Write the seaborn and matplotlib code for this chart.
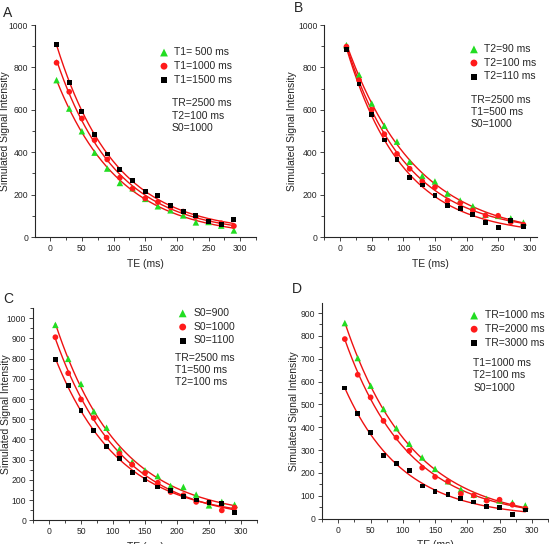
import numpy as np
import pandas as pd
import matplotlib
matplotlib.use('Agg')
import matplotlib.pyplot as plt
import seaborn as sns
from matplotlib.ticker import MultipleLocator

# echo times shared by all panels
te = [10, 30, 50, 70, 90, 110, 130, 150, 170, 190, 210, 230, 250, 270, 290]

# panel A: varying T1
a_labels = ['T1= 500 ms', 'T1=1000 ms', 'T1=1500 ms']
a_t1_500 = [740, 606, 499, 398, 323, 255, 230, 180, 145, 126, 102, 69, 71, 54, 31]
a_t1_1000 = [822, 685, 559, 457, 366, 280, 228, 182, 165, 140, 120, 95, 75, 65, 52]
a_t1_1500 = [910, 730, 592, 482, 392, 318, 268, 213, 195, 148, 122, 100, 73, 60, 82]
a_note = 'TR=2500 ms\nT2=100 ms\nS0=1000'

# panel B: varying T2
b_labels = ['T2=90 ms', 'T2=100 ms', 'T2=110 ms']
b_t2_90 = [905, 765, 630, 525, 450, 355, 288, 262, 205, 172, 145, 105, 100, 88, 68]
b_t2_100 = [898, 740, 600, 485, 392, 322, 262, 235, 172, 160, 125, 102, 100, 70, 58]
b_t2_110 = [885, 722, 578, 458, 365, 280, 245, 195, 150, 133, 105, 68, 45, 78, 48]
b_note = 'TR=2500 ms\nT1=500 ms\nS0=1000'

# panel C: varying S0
c_labels = ['S0=900', 'S0=1000', 'S0=1100']
c_s0_900 = [967, 799, 675, 539, 458, 351, 288, 247, 219, 170, 165, 127, 74, 91, 77]
c_s0_1000 = [906, 728, 598, 506, 409, 329, 275, 234, 186, 140, 124, 91, 88, 49, 63]
c_s0_1100 = [796, 666, 542, 443, 366, 305, 236, 203, 165, 148, 119, 100, 87, 82, 38]
c_note = 'TR=2500 ms\nT1=500 ms\nT2=100 ms'

# panel D: varying TR
d_labels = ['TR=1000 ms', 'TR=2000 ms', 'TR=3000 ms']
d_tr_1000 = [856, 703, 582, 480, 396, 328, 268, 218, 164, 128, 105, 87, 80, 70, 58]
d_tr_2000 = [786, 630, 531, 428, 355, 297, 223, 183, 163, 109, 102, 79, 83, 61, 44]
d_tr_3000 = [572, 461, 376, 275, 243, 210, 143, 119, 105, 89, 73, 52, 49, 17, 38]
d_note = 'T1=1000 ms\nT2=100 ms\nS0=1000'

marker_colors = ['#22dd22', '#ff1a1a', '#000000']
marker_shapes = ['^', 'o', 's']
marker_sizes = [22, 17, 12]

sns.set_style('ticks')
plt.rcParams['font.family'] = ['Liberation Sans', 'DejaVu Sans']


def fit_curve(t, y):
    # y = A*exp(-t/T) + c, grid search over T, linear least squares for A, c
    t = np.asarray(t, float)
    y = np.asarray(y, float)
    best = None
    for T in np.linspace(20, 400, 1500):
        X = np.column_stack([np.exp(-t / T), np.ones_like(t)])
        coef, *_ = np.linalg.lstsq(X, y, rcond=None)
        sse = np.sum((X @ coef - y) ** 2)
        if best is None or sse < best[0]:
            best = (sse, T, coef)
    _, T, coef = best
    tt = np.linspace(t.min(), t.max(), 200)
    return tt, coef[0] * np.exp(-tt / T) + coef[1]


def draw_panel(ax, series, labels, note, ylim, ymajor, xlim, leg_xy, note_xy, ylab_x):
    for vals in series:
        tt, yy = fit_curve(te, vals)
        sns.lineplot(x=tt, y=yy, ax=ax, color='#ee1111', lw=1.0, legend=False)
    for vals, lab, col, mk, sz in zip(series, labels, marker_colors, marker_shapes, marker_sizes):
        sns.scatterplot(x=te, y=vals, ax=ax, color=col, marker=mk, s=sz,
                        edgecolor='none', label=lab, zorder=3)
    ax.set_xlim(*xlim)
    ax.set_ylim(*ylim)
    ax.xaxis.set_major_locator(MultipleLocator(50))
    ax.xaxis.set_minor_locator(MultipleLocator(25))
    ax.yaxis.set_major_locator(MultipleLocator(ymajor))
    ax.yaxis.set_minor_locator(MultipleLocator(ymajor / 2))
    ax.tick_params(which='major', length=3, width=0.6, labelsize=6.2, pad=2)
    ax.tick_params(which='minor', length=2, width=0.6)
    for s in ['left', 'bottom']:
        ax.spines[s].set_linewidth(0.8)
    sns.despine(ax=ax)
    ax.set_xlabel('TE (ms)', fontsize=7.5, labelpad=4)
    ax.set_ylabel('Simulated Signal Intensity', fontsize=7.5)
    ax.yaxis.set_label_coords(ylab_x, 0.5)
    ax.legend(loc='upper left', bbox_to_anchor=leg_xy, frameon=False,
              fontsize=7.5, borderpad=0, borderaxespad=0, handletextpad=0.5,
              labelspacing=0.35, handlelength=1.0, markerscale=1.2)
    ax.text(note_xy[0], note_xy[1], note, transform=ax.transAxes, fontsize=7.5,
            va='top', ha='left', linespacing=1.3)


fig = plt.figure(figsize=(5.49, 5.44), dpi=100)
ax_a = fig.add_axes([0.0638, 0.5643, 0.4026, 0.3897])
ax_b = fig.add_axes([0.5907, 0.5643, 0.3869, 0.3897])
ax_c = fig.add_axes([0.0601, 0.0436, 0.408, 0.390])
ax_d = fig.add_axes([0.587, 0.0465, 0.411, 0.397])

draw_panel(ax_a, [a_t1_500, a_t1_1000, a_t1_1500], a_labels, a_note,
           (0, 1000), 200, (-24, 325), (0.56, 0.895), (0.62, 0.655), -0.115)
draw_panel(ax_b, [b_t2_90, b_t2_100, b_t2_110], b_labels, b_note,
           (0, 1000), 200, (-25, 311), (0.68, 0.91), (0.69, 0.672), -0.13)
draw_panel(ax_c, [c_s0_900, c_s0_1000, c_s0_1100], c_labels, c_note,
           (0, 1050), 100, (-25, 325), (0.645, 1.0), (0.634, 0.79), -0.1)
draw_panel(ax_d, [d_tr_1000, d_tr_2000, d_tr_3000], d_labels, d_note,
           (0, 945), 100, (-25, 325), (0.65, 0.965), (0.67, 0.745), -0.105)

for lab, x, y in [('A', 0.006, 0.977), ('B', 0.535, 0.985), ('C', 0.006, 0.45), ('D', 0.532, 0.468)]:
    fig.text(x, y, lab, fontsize=10, va='center', ha='left')

fig.savefig('out.png', dpi=100)
